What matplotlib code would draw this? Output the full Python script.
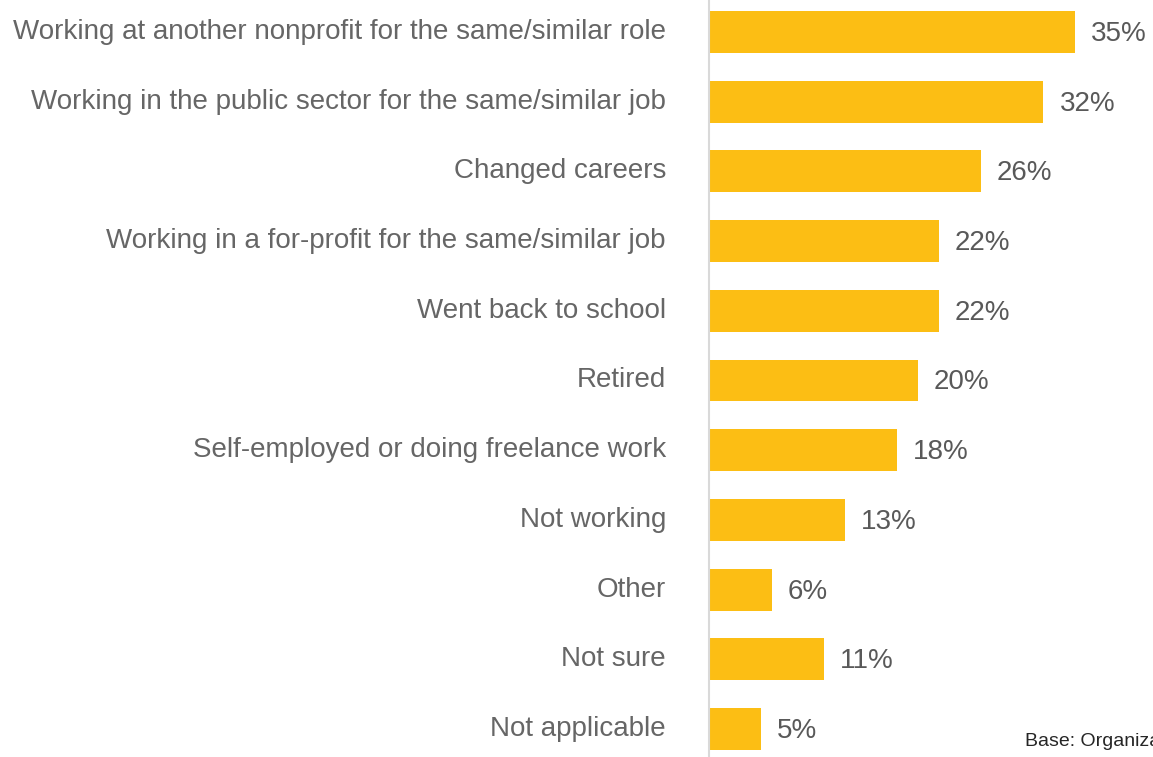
import matplotlib
matplotlib.use("Agg")
import matplotlib.pyplot as plt
import matplotlib.transforms as mtransforms

# outcomes for staff who left, share of organizations
categories = [
    "Working at another nonprofit for the same/similar role",
    "Working in the public sector for the same/similar job",
    "Changed careers",
    "Working in a for-profit for the same/similar job",
    "Went back to school",
    "Retired",
    "Self-employed or doing freelance work",
    "Not working",
    "Other",
    "Not sure",
    "Not applicable",
]
values = [35, 32, 26, 22, 22, 20, 18, 13, 6, 11, 5]

plt.rcParams['font.family'] = ['Liberation Sans', 'DejaVu Sans']

fig = plt.figure(figsize=(11.53, 7.57), dpi=100)
ax = fig.add_axes([709 / 1153, 0, 1 - 709 / 1153, 1])

y = list(range(len(categories)))
ax.barh(y, values, height=0.6, color='#FCBE14')

for yi, v in zip(y, values):
    ax.annotate(f"{v}%", (v, yi), xytext=(16, -2), textcoords='offset pixels',
                va='center', ha='left', fontsize=20, color='#595959')

ax.set_xlim(0, 444 / 10.45)
ax.set_ylim(10 + 28 / 69.7, -32 / 69.7)
ax.set_yticks(y)
ax.set_yticklabels(categories, fontsize=20, color='#666666')
ax.tick_params(axis='y', length=0, pad=31)
ax.set_xticks([])

# labels sit a little above the bar centres
shift = mtransforms.ScaledTranslation(0, 3 / 100, fig.dpi_scale_trans)
for lbl in ax.get_yticklabels():
    lbl.set_transform(lbl.get_transform() + shift)

for s in ['top', 'right', 'bottom']:
    ax.spines[s].set_visible(False)
ax.spines['left'].set_color('#D9D9D9')
ax.spines['left'].set_linewidth(1.5)

fig.text(1025 / 1153, 1 - 741 / 757, "Base: Organizations", fontsize=14,
         color='#262626', va='center', ha='left')

fig.savefig("out.png", dpi=100)
